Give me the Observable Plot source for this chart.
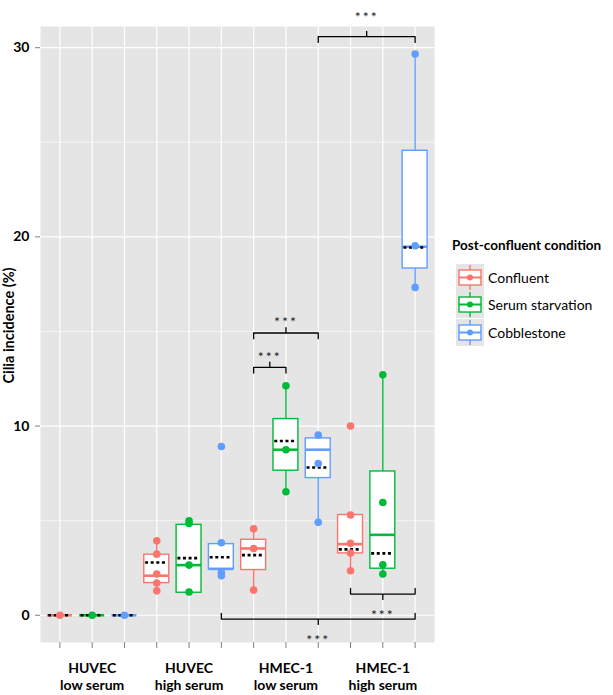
<!DOCTYPE html>
<html>
<head>
<meta charset="utf-8">
<script src="https://cdn.jsdelivr.net/npm/d3@7"></script>
<script src="https://cdn.jsdelivr.net/npm/@observablehq/plot@0.6"></script>
<style>
  html, body { margin: 0; padding: 0; background: white; }
  #wrap { position: relative; width: 613px; height: 695px; font-family: Lato, "Open Sans", sans-serif; }
  #legend { position: absolute; left: 452px; top: 236px; color: #000; }
  #legend .title { font-weight: bold; font-size: 13.5px; line-height: 18px; margin-bottom: 11px; white-space: nowrap; }
  #legend .row { display: flex; align-items: center; height: 30.5px; margin-top: -3px; }
  #legend .row:first-of-type { margin-top: 0; }
  #legend .row svg { display: block; margin-left: 4px; }
  #legend .row span { font-size: 14px; margin-left: 4px; white-space: nowrap; }
</style>
</head>
<body>
<div id="wrap"></div>
<script>
// ---------- data ----------
const groupLabels = ["HUVEC\nlow serum", "HUVEC\nhigh serum", "HMEC-1\nlow serum", "HMEC-1\nhigh serum"];
const conditions = ["Confluent", "Serum starvation", "Cobblestone"];
const conditionColors = ["#F8766D", "#00BA38", "#619CFF"];

// rows: condition, columns: group
const boxQ1     = [[0, 1.70, 2.39, 3.27], [0, 1.19, 7.64, 2.46], [0, 2.44, 7.25, 18.33]];
const boxMedian = [[0, 2.09, 3.53, 3.76], [0, 2.65, 8.75, 4.25], [0, 2.45, 8.75, 19.48]];
const boxQ3     = [[0, 3.20, 3.99, 5.30], [0, 4.78, 10.37, 7.60], [0, 3.76, 9.35, 24.55]];
const whiskLow  = [[0, 1.29, 1.33, 2.35], [0, 1.19, 6.53, 2.18], [0, 2.09, 4.91, 17.33]];
const whiskHigh = [[0, 3.94, 4.57, 5.30], [0, 4.99, 12.13, 12.71], [0, 3.83, 9.52, 29.66]];
const groupMean = [[0, 2.79, 3.18, 3.48], [0, 3.02, 9.21, 3.27], [0, 3.07, 7.81, 19.44]];
const pointValues = [
  [[0], [3.94, 3.23, 2.18, 1.70, 1.29], [4.57, 3.53, 1.33], [10.0, 5.30, 3.80, 3.29, 2.35]],
  [[0], [4.99, 4.85, 2.65, 1.23], [12.13, 8.75, 6.53], [12.71, 5.96, 2.67, 2.18]],
  [[0], [8.92, 3.83, 2.26, 2.09], [9.52, 8.02, 4.91], [29.66, 19.53, 17.33]]
];

// significance brackets (box index = group*3 + condition)
const sigFrom   = [8, 6, 6, 9, 5];
const sigTo     = [11, 8, 7, 11, 11];
const sigY      = [30.58, 14.92, 13.10, 1.12, -0.20];
const sigDir    = [1, 1, 1, -1, -1];
const sigTextY  = [31.86, 15.74, 13.89, 0.24, -1.08];
const sigLabels = ["***", "***", "***", "***", "***"];

const yMajorTicks = [0, 10, 20, 30];
const yMinorTicks = [5, 15, 25];
const yLabel = "Cilia incidence (%)";
const legendTitle = "Post-confluent condition";

// ---------- build tables ----------
const boxes = [];
const points = [];
groupLabels.forEach((g, gi) => {
  conditions.forEach((c, ci) => {
    const i = gi * 3 + ci;
    boxes.push({
      i, condition: c,
      q1: boxQ1[ci][gi], median: boxMedian[ci][gi], q3: boxQ3[ci][gi],
      lo: whiskLow[ci][gi], hi: whiskHigh[ci][gi], mean: groupMean[ci][gi]
    });
    pointValues[ci][gi].forEach(v => points.push({i, condition: c, v}));
  });
});
const positions = d3.range(groupLabels.length * conditions.length);

const halfW = 0.386;   // half box width (in category steps)
const arm = 0.3;       // bracket arm length (data units)
const bracketPts = [];
const sigText = [];
sigFrom.forEach((f, k) => {
  const t = sigTo[k], y = sigY[k], d = sigDir[k], m = (f + t) / 2;
  [[f, y - d * arm], [f, y], [m, y], [m, y + d * arm * 0.95], [m, y], [t, y], [t, y - d * arm]]
    .forEach(([x, yy]) => bracketPts.push({id: k, x, y: yy}));
  sigText.push({x: m, y: sigTextY[k], label: sigLabels[k]});
});

// ---------- plot ----------
const chart = Plot.plot({
  width: 613,
  height: 695,
  marginLeft: 40,
  marginRight: 179,
  marginTop: 26,
  marginBottom: 53,
  style: {fontFamily: "Lato, 'Open Sans', sans-serif", background: "white", color: "black", overflow: "visible"},
  x: {domain: [-0.6, positions.length - 1 + 0.6], axis: null},
  y: {domain: [-1.44, 31.12], axis: null},
  color: {domain: conditions, range: conditionColors},
  marks: [
    Plot.frame({fill: "#E5E5E5"}),
    Plot.gridY(yMinorTicks, {stroke: "white", strokeOpacity: 1, strokeWidth: 0.6}),
    Plot.gridY(yMajorTicks, {stroke: "white", strokeOpacity: 1, strokeWidth: 1.2}),
    Plot.gridX(positions, {stroke: "white", strokeOpacity: 1, strokeWidth: 1.2}),
    Plot.axisY(yMajorTicks, {
      tickSize: 5, tickPadding: 6, fontSize: 14, fontWeight: "bold",
      stroke: "#7f7f7f", fill: "black", label: null
    }),
    Plot.text([yLabel], {
      frameAnchor: "left", textAnchor: "middle", rotate: -90, dx: -31, dy: -9,
      fontSize: 14.5, fontWeight: "bold", fill: "black"
    }),
    Plot.axisX(positions, {
      tickSize: 6, tickPadding: 12, fontSize: 14, fontWeight: "bold", lineHeight: 1.25,
      stroke: "#7f7f7f", fill: "black",
      tickFormat: i => (i % 3 === 1 ? groupLabels[(i - 1) / 3] : ""),
      label: null
    }),
    Plot.ruleX(boxes, {x: "i", y1: "lo", y2: "hi", stroke: "condition", strokeWidth: 1.4}),
    Plot.rect(boxes, {x1: d => d.i - halfW, x2: d => d.i + halfW, y1: "q1", y2: "q3",
      fill: "white", stroke: "condition", strokeWidth: 1.4}),
    Plot.ruleY(boxes, {y: "median", x1: d => d.i - halfW, x2: d => d.i + halfW,
      stroke: "condition", strokeWidth: 2.6}),
    Plot.ruleY(boxes, {y: "mean", x1: d => d.i - halfW + 0.04, x2: d => d.i + halfW - 0.04,
      stroke: "black", strokeWidth: 2.6, strokeDasharray: "3,2.6"}),
    Plot.dot(points, {x: "i", y: "v", fill: "condition", r: 3.8}),
    Plot.line(bracketPts, {x: "x", y: "y", z: "id", stroke: "black", strokeWidth: 1.3, curve: "linear"}),
    Plot.text(sigText, {x: "x", y: "y", text: "label", fontSize: 14, fill: "#222", dy: 5})
  ]
});

chart.querySelectorAll("text").forEach(t => {
  if (t.textContent === "***") t.setAttribute("letter-spacing", "2");
});

const wrap = document.getElementById("wrap");
wrap.appendChild(chart);

// ---------- legend ----------
const legend = document.createElement("div");
legend.id = "legend";
let html = `<div class="title">${legendTitle}</div>`;
conditions.forEach((c, k) => {
  const col = conditionColors[k];
  html += `<div class="row"><svg width="28" height="27" viewBox="0 0 28 27">
    <rect x="0" y="0" width="28" height="27" fill="#E5E5E5"/>
    <line x1="14" x2="14" y1="1" y2="26" stroke="${col}" stroke-width="1.4"/>
    <rect x="3" y="6" width="22" height="15" fill="white" stroke="${col}" stroke-width="1.4"/>
    <line x1="3" x2="25" y1="13.5" y2="13.5" stroke="${col}" stroke-width="2"/>
    <circle cx="14" cy="13.5" r="3" fill="${col}"/>
  </svg><span>${c}</span></div>`;
});
legend.innerHTML = html;
wrap.appendChild(legend);
</script>
</body>
</html>
